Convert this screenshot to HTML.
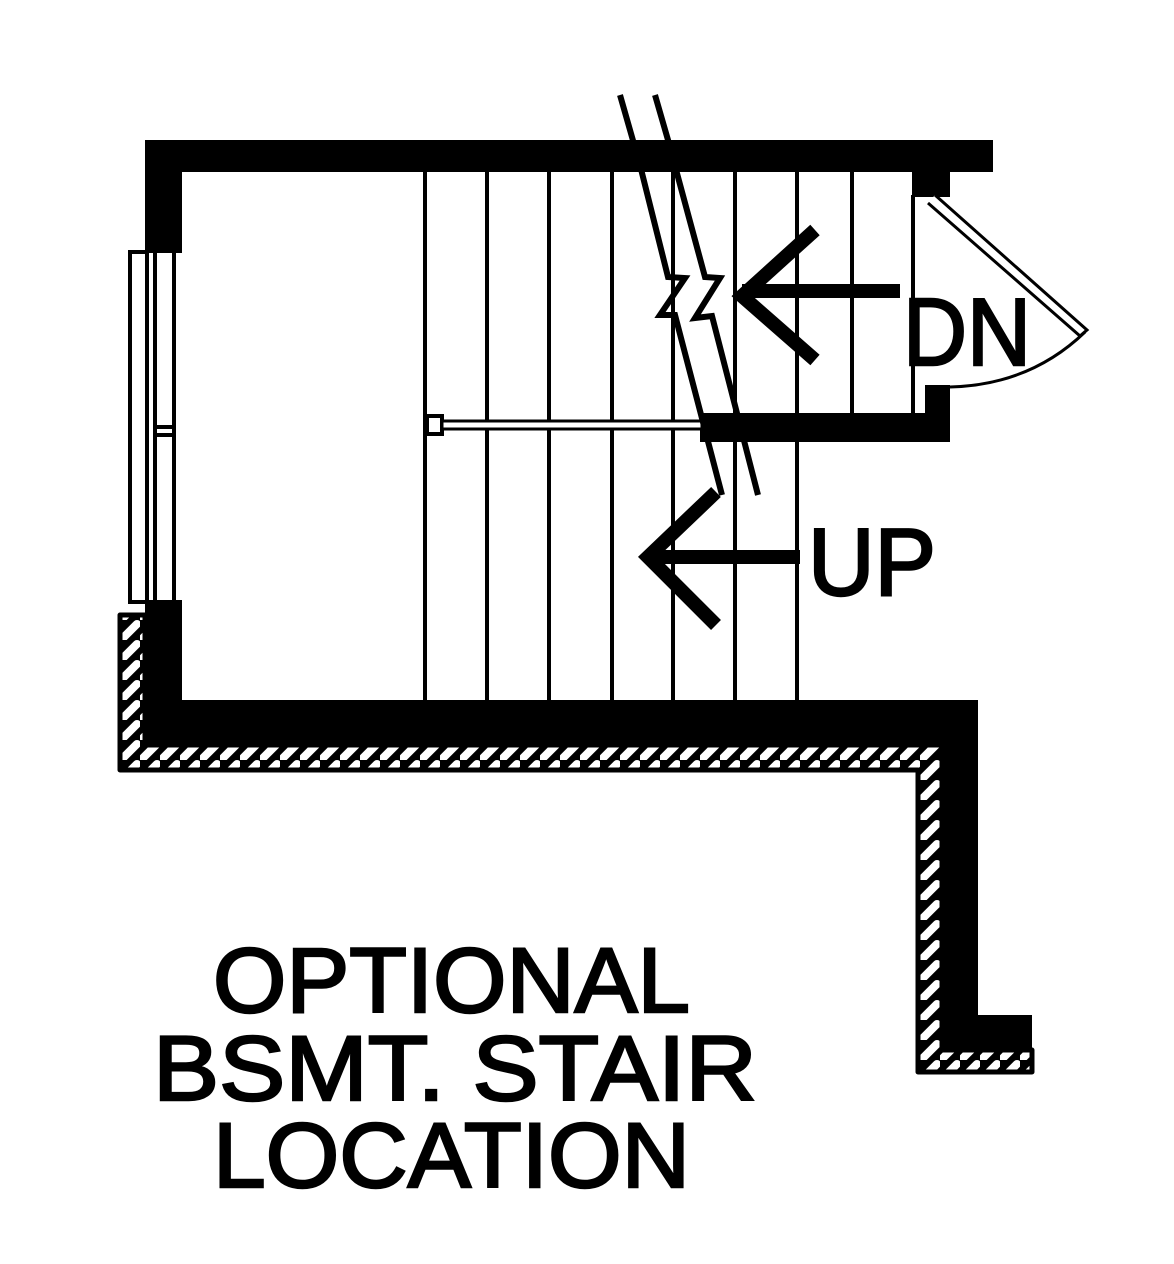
<!DOCTYPE html>
<html><head><style>html,body{margin:0;padding:0;background:#fff}svg{display:block}</style></head>
<body>
<svg width="1174" height="1264" viewBox="0 0 1174 1264" xmlns="http://www.w3.org/2000/svg">
<defs>
<pattern id="hv" width="20" height="20" patternUnits="userSpaceOnUse">
<rect width="20" height="20" fill="#000"/>
<path d="M3 18 L17 4" stroke="#fff" stroke-width="8" stroke-linecap="round"/>
</pattern>
</defs>
<g fill="#000">
<rect x="145" y="140" width="848" height="32"/>
<rect x="145" y="140" width="37" height="113"/>
<rect x="145" y="600" width="37" height="145"/>
<rect x="145" y="700" width="833" height="45"/>
<rect x="942" y="700" width="36" height="350"/>
<rect x="942" y="1015" width="90" height="40"/>
<rect x="700" y="413" width="250" height="29"/>
<rect x="912" y="172" width="38" height="25"/>
<rect x="925" y="385" width="25" height="57"/>
</g>
<path d="M120 615 H145 V745 H942 V1050 H1032 V1072 H918 V770 H120 Z" fill="url(#hv)" stroke="#000" stroke-width="5" stroke-linejoin="round"/>
<rect x="130" y="252" width="17" height="350" fill="#fff" stroke="#000" stroke-width="4"/>
<g stroke="#000" stroke-width="4" fill="none">
<line x1="155" y1="253" x2="155" y2="600"/>
<line x1="174" y1="253" x2="174" y2="600"/>
<line x1="155" y1="427" x2="174" y2="427"/>
<line x1="155" y1="435" x2="174" y2="435"/>
</g>
<g stroke="#000" stroke-width="4">
<line x1="425" y1="172" x2="425" y2="702"/>
<line x1="487" y1="172" x2="487" y2="702"/>
<line x1="549" y1="172" x2="549" y2="702"/>
<line x1="612" y1="172" x2="612" y2="702"/>
<line x1="673" y1="172" x2="673" y2="702"/>
<line x1="735" y1="172" x2="735" y2="702"/>
<line x1="797" y1="172" x2="797" y2="702"/>
<line x1="852" y1="172" x2="852" y2="413"/>
<line x1="913" y1="195" x2="913" y2="413"/>
</g>
<rect x="427" y="416" width="15" height="18" fill="#fff" stroke="#000" stroke-width="4"/>
<rect x="442" y="421" width="260" height="8" fill="#fff" stroke="#000" stroke-width="3"/>
<g stroke="#000" stroke-width="6" fill="none">
<path d="M620 95 L640 165 L668 277 L685 278 L660 315 L675 315 L722 495"/>
<path d="M655 95 L668 140 L705 277 L720 278 L695 318 L712 316 L758 495"/>
</g>
<g stroke="#000" stroke-width="14" fill="none">
<path d="M815 230 L742 296 L815 360"/>
<line x1="742" y1="291" x2="900" y2="291"/>
</g>
<g stroke="#000" stroke-width="14" fill="none">
<path d="M716 492 L648 557 L716 625"/>
<line x1="648" y1="557" x2="800" y2="557"/>
</g>
<path d="M935 195 L1087 330 L1080 336 L928 203" fill="#fff" stroke="#000" stroke-width="3"/>
<path d="M1085 332 Q1030 385 950 387" fill="none" stroke="#000" stroke-width="3"/>
<g font-family="Liberation Sans, sans-serif" fill="#000" stroke="#000" stroke-width="2.5">
<text x="903" y="365" font-size="96" textLength="128" lengthAdjust="spacingAndGlyphs">DN</text>
<text x="808" y="595" font-size="96" textLength="128" lengthAdjust="spacingAndGlyphs">UP</text>
<text x="213" y="1012" font-size="92" textLength="477" lengthAdjust="spacingAndGlyphs">OPTIONAL</text>
<text x="153" y="1100" font-size="92" textLength="604" lengthAdjust="spacingAndGlyphs">BSMT. STAIR</text>
<text x="213" y="1187" font-size="92" textLength="477" lengthAdjust="spacingAndGlyphs">LOCATION</text>
</g>
</svg>
</body></html>
